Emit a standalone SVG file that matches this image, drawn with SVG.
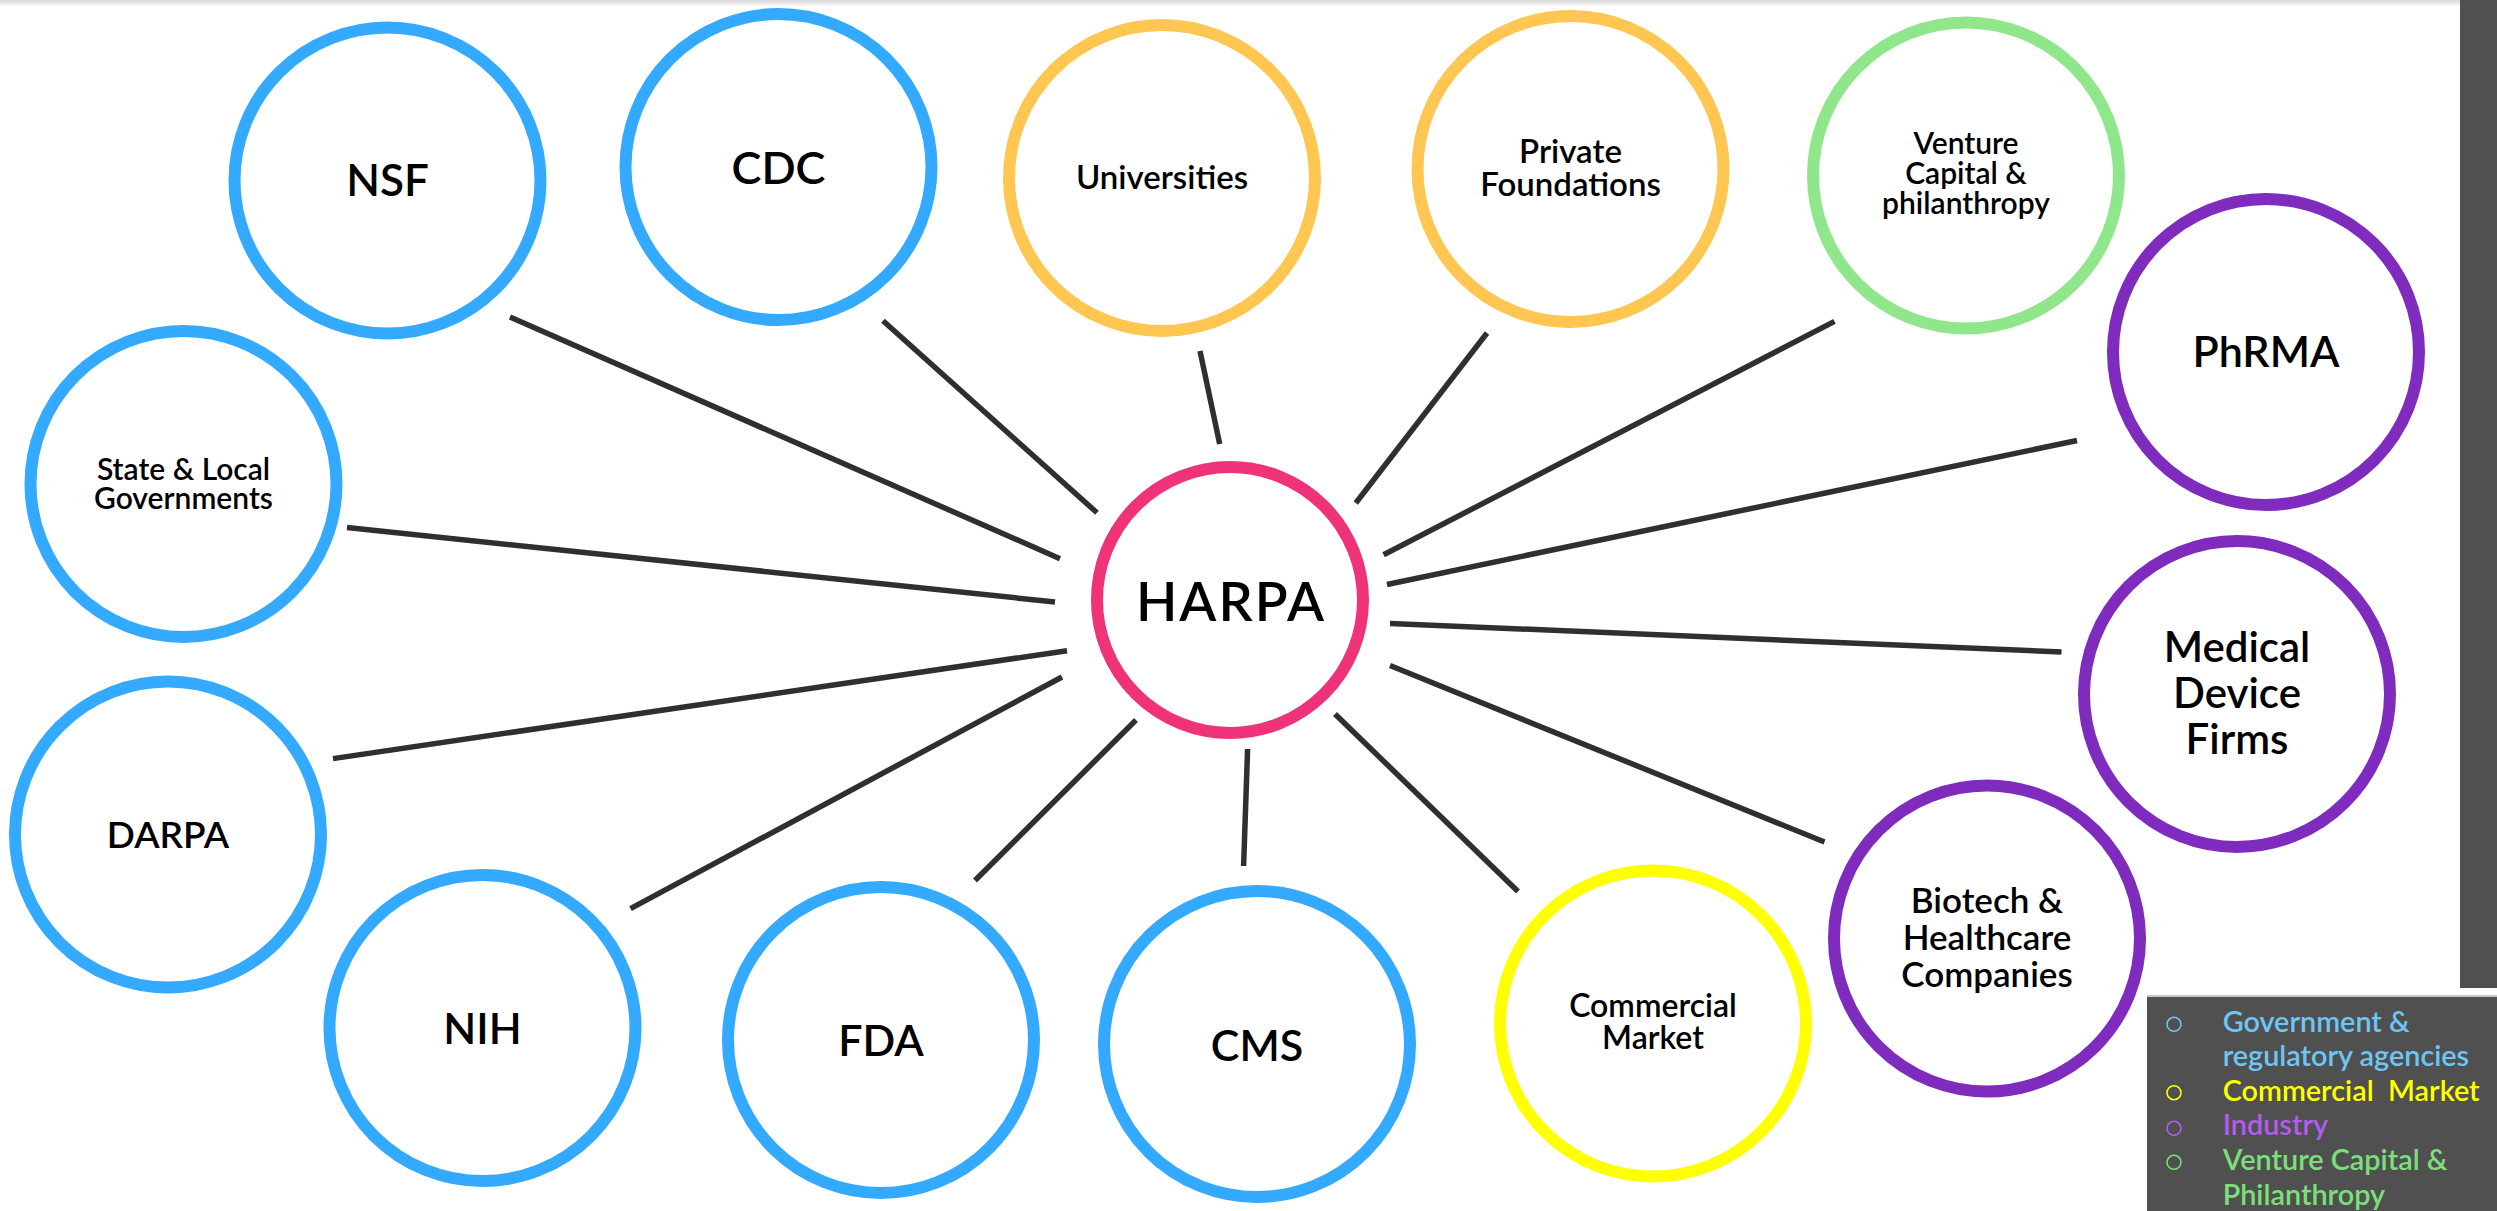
<svg xmlns="http://www.w3.org/2000/svg" width="2497" height="1211" viewBox="0 0 2497 1211">
<defs>
<linearGradient id="topshade" x1="0" y1="0" x2="0" y2="1">
<stop offset="0" stop-color="#d8d8d8"/>
<stop offset="1" stop-color="#ffffff"/>
</linearGradient>
</defs>
<style>
.node{fill:#ffffff;stroke-width:12}
.gov{stroke:#33AAFF}
.acad{stroke:#FFC652}
.vc{stroke:#90E68A}
.ind{stroke:#7E2BBE}
.com{stroke:#FFFF00}
.hub{stroke:#EE337A}
.lbl{font-family:Lato,"Open Sans","Liberation Sans",sans-serif;font-weight:600;fill:#000000;text-anchor:middle}
.conn line{stroke:#2f2f2f;stroke-width:5.5}
.leg{font-family:Lato,"Open Sans","Liberation Sans",sans-serif;font-weight:600;font-size:28.8px;white-space:pre}
.dot{fill:none;stroke-width:1.6}
</style>
<rect x="0" y="0" width="2497" height="1211" fill="#ffffff"/>
<rect x="0" y="0" width="2460" height="7" fill="url(#topshade)"/>
<rect x="2460" y="0" width="37" height="988" fill="#505050"/>

<g id="connectors" class="conn">
<line x1="510" y1="317" x2="1060" y2="558.7"/>
<line x1="883" y1="320.7" x2="1097" y2="512.8"/>
<line x1="1200" y1="351" x2="1219.7" y2="444"/>
<line x1="1487" y1="333" x2="1355.8" y2="503"/>
<line x1="1834.5" y1="321.4" x2="1383.6" y2="554.8"/>
<line x1="2077" y1="440.5" x2="1387" y2="584.5"/>
<line x1="347" y1="527.5" x2="1055" y2="602"/>
<line x1="2061.5" y1="652" x2="1390" y2="623.4"/>
<line x1="333" y1="758.6" x2="1067" y2="650.7"/>
<line x1="630.5" y1="908.6" x2="1062" y2="677"/>
<line x1="975" y1="880.5" x2="1136" y2="720"/>
<line x1="1243.6" y1="866" x2="1247.6" y2="749"/>
<line x1="1518" y1="891.5" x2="1335" y2="714"/>
<line x1="1824.5" y1="842" x2="1390" y2="665.5"/>
</g>

<g id="node-nsf"><circle class="node gov" cx="387.5" cy="180.5" r="153"/><text class="lbl" x="387.5" y="196" font-size="44">NSF</text></g>
<g id="node-cdc"><circle class="node gov" cx="778.5" cy="167" r="153"/><text class="lbl" x="778.5" y="183.7" font-size="45">CDC</text></g>
<g id="node-universities"><circle class="node acad" cx="1162" cy="178" r="153"/><text class="lbl" x="1162" y="189.4" font-size="33">Universities</text></g>
<g id="node-private-foundations"><circle class="node acad" cx="1570.5" cy="169" r="153"/><text class="lbl" x="1570.5" font-size="33"><tspan x="1570.5" y="163.4">Private</tspan><tspan x="1570.5" y="196">Foundations</tspan></text></g>
<g id="node-venture"><circle class="node vc" cx="1966" cy="175.5" r="153"/><text class="lbl" x="1966" font-size="30"><tspan x="1966" y="154.2">Venture</tspan><tspan x="1966" y="183.7">Capital &amp;</tspan><tspan x="1966" y="214">philanthropy</tspan></text></g>
<g id="node-phrma"><circle class="node ind" cx="2266" cy="352" r="153"/><text class="lbl" x="2266" y="367.4" font-size="43">PhRMA</text></g>
<g id="node-state-local"><circle class="node gov" cx="183.5" cy="484" r="153"/><text class="lbl" x="183.5" font-size="30"><tspan x="183.5" y="480">State &amp; Local</tspan><tspan x="183.5" y="509">Governments</tspan></text></g>
<g id="node-harpa"><circle class="node hub" cx="1230" cy="600" r="133"/><text class="lbl" x="1231" y="620.7" font-size="54" letter-spacing="2">HARPA</text></g>
<g id="node-medical-device"><circle class="node ind" cx="2237" cy="694" r="153"/><text class="lbl" x="2237" font-size="42"><tspan x="2237" y="662.4">Medical</tspan><tspan x="2237" y="708">Device</tspan><tspan x="2237" y="754">Firms</tspan></text></g>
<g id="node-darpa"><circle class="node gov" cx="168" cy="834.5" r="153"/><text class="lbl" x="168" y="848" font-size="37">DARPA</text></g>
<g id="node-nih"><circle class="node gov" cx="482.5" cy="1028" r="153"/><text class="lbl" x="482.5" y="1043.5" font-size="43">NIH</text></g>
<g id="node-fda"><circle class="node gov" cx="881" cy="1040" r="153"/><text class="lbl" x="881" y="1056" font-size="43">FDA</text></g>
<g id="node-cms"><circle class="node gov" cx="1257" cy="1044" r="153"/><text class="lbl" x="1257" y="1060.7" font-size="43">CMS</text></g>
<g id="node-commercial-market"><circle class="node com" cx="1653" cy="1023.5" r="153"/><text class="lbl" x="1653" font-size="32"><tspan x="1653" y="1017">Commercial</tspan><tspan x="1653" y="1049">Market</tspan></text></g>
<g id="node-biotech"><circle class="node ind" cx="1987" cy="938.5" r="153"/><text class="lbl" x="1987" font-size="35"><tspan x="1987" y="913">Biotech &amp;</tspan><tspan x="1987" y="950">Healthcare</tspan><tspan x="1987" y="987">Companies</tspan></text></g>

<g id="legend">
<rect x="2147" y="995" width="350" height="216" fill="#505050"/>
<rect x="2147" y="995" width="350" height="2" fill="#c8c8c8"/>
<circle class="dot" cx="2174" cy="1024.3" r="7" stroke="#6EC6F5"/>
<circle class="dot" cx="2174" cy="1092.7" r="7" stroke="#FFFF00"/>
<circle class="dot" cx="2174" cy="1128.3" r="7" stroke="#B35CF0"/>
<circle class="dot" cx="2174" cy="1162.3" r="7" stroke="#7BE07A"/>
<text class="leg" x="2222.7" fill="#6EC6F5"><tspan x="2222.7" y="1032.3">Government &amp;</tspan><tspan x="2222.7" y="1066">regulatory agencies</tspan></text>
<text class="leg" x="2222.7" y="1100.7" fill="#FFFF00">Commercial  Market</text>
<text class="leg" x="2222.7" y="1135" fill="#B35CF0">Industry</text>
<text class="leg" x="2222.7" fill="#7BE07A"><tspan x="2222.7" y="1170">Venture Capital &amp;</tspan><tspan x="2222.7" y="1205">Philanthropy</tspan></text>
</g>
</svg>
